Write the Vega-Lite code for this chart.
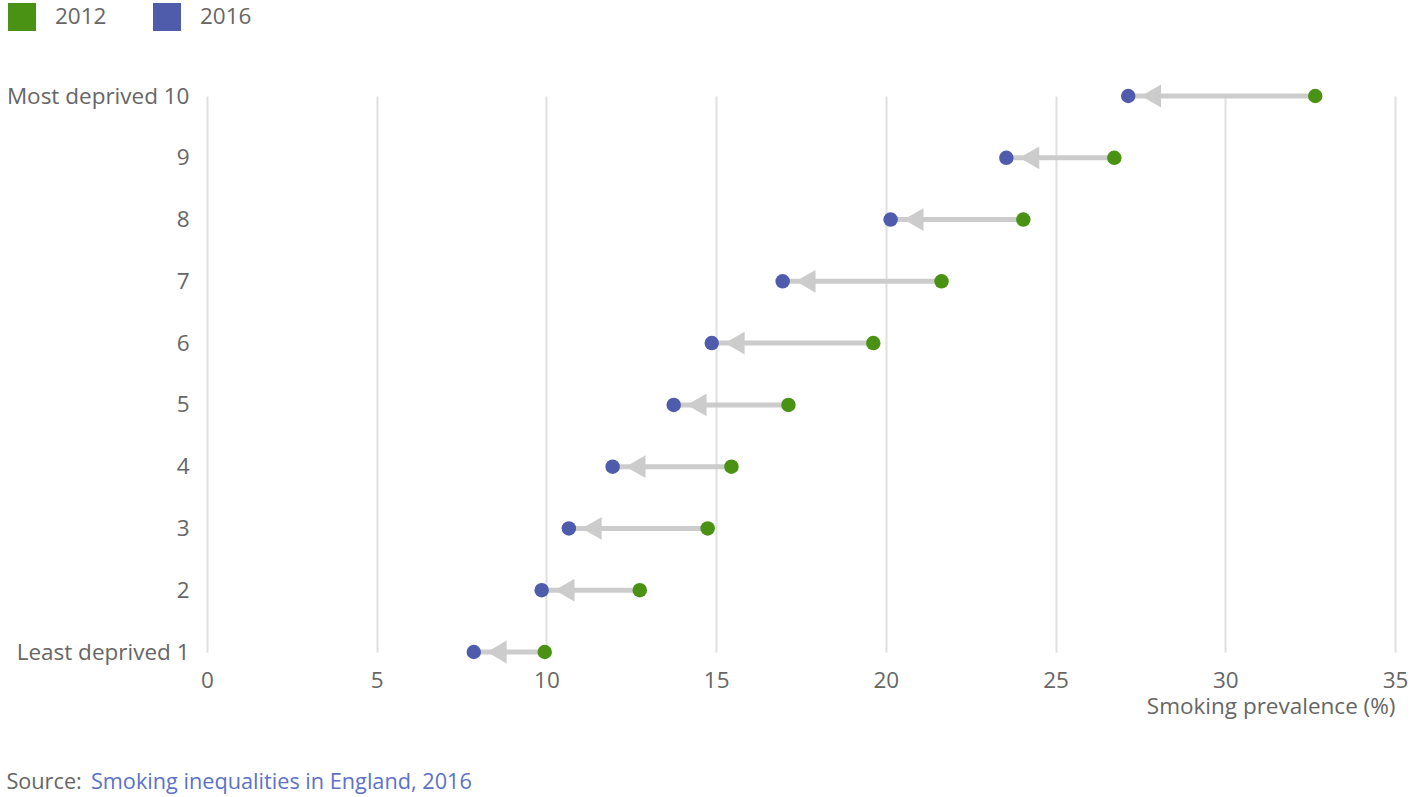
{
  "$schema": "https://vega.github.io/schema/vega-lite/v6.json",
  "width": 1420,
  "height": 797,
  "autosize": {"type": "fit", "contains": "padding"},
  "padding": {"left": 6, "right": 12, "top": 84, "bottom": 3},
  "background": "white",
  "config": {
    "font": "Open Sans",
    "view": {"stroke": null},
    "axis": {"labelColor": "#666666", "titleColor": "#666666", "labelFontSize": 22.5, "titleFontSize": 22.5, "titleFontWeight": "normal"}
  },
  "title": {
    "text": "Source:",
    "subtitle": "\u200b\u00a0\u00a0\u00a0\u00a0\u00a0\u00a0\u00a0\u00a0\u00a0\u00a0\u00a0\u00a0\u00a0\u00a0\u00a0Smoking inequalities in England, 2016",
    "orient": "bottom",
    "anchor": "start",
    "frame": "bounds",
    "fontSize": 21.7,
    "fontWeight": "normal",
    "color": "#666666",
    "subtitleFontSize": 21.7,
    "subtitleColor": "#5b72c8",
    "subtitlePadding": -21.7,
    "offset": 54
  },
  "data": {
    "values": [
      {"decile": "Most deprived 10", "rank": 10, "y2012": 32.65, "y2016": 27.14},
      {"decile": "9", "rank": 9, "y2012": 26.73, "y2016": 23.55},
      {"decile": "8", "rank": 8, "y2012": 24.05, "y2016": 20.14},
      {"decile": "7", "rank": 7, "y2012": 21.64, "y2016": 16.96},
      {"decile": "6", "rank": 6, "y2012": 19.63, "y2016": 14.87},
      {"decile": "5", "rank": 5, "y2012": 17.13, "y2016": 13.75},
      {"decile": "4", "rank": 4, "y2012": 15.45, "y2016": 11.95},
      {"decile": "3", "rank": 3, "y2012": 14.75, "y2016": 10.66},
      {"decile": "2", "rank": 2, "y2012": 12.75, "y2016": 9.86},
      {"decile": "Least deprived 1", "rank": 1, "y2012": 9.95, "y2016": 7.86}
    ]
  },
  "encoding": {
    "y": {
      "field": "decile",
      "type": "nominal",
      "sort": {"field": "rank", "order": "descending"},
      "scale": {"type": "point", "padding": 0},
      "axis": {"title": null, "domain": false, "ticks": false, "grid": false, "labelPadding": 18, "labelLimit": 400}
    }
  },
  "layer": [
    {
      "mark": {"type": "rule", "color": "#cccccc", "strokeWidth": 5},
      "encoding": {
        "x": {
          "field": "y2012",
          "type": "quantitative",
          "scale": {"domain": [0, 35], "nice": false},
          "axis": {
            "title": "Smoking prevalence (%)",
            "titleAnchor": "end",
            "titlePadding": 4,
            "values": [0, 5, 10, 15, 20, 25, 30, 35],
            "domain": false,
            "ticks": false,
            "grid": true,
            "gridColor": "#e0e0e0",
            "gridWidth": 2,
            "labelPadding": 17,
            "labelFlush": false
          }
        },
        "x2": {"field": "y2016"}
      }
    },
    {
      "mark": {"type": "point", "shape": "triangle-left", "filled": true, "color": "#cccccc", "opacity": 1, "size": 520, "xOffset": 23},
      "encoding": {
        "x": {"field": "y2016", "type": "quantitative"}
      }
    },
    {
      "transform": [
        {"fold": ["y2012", "y2016"], "as": ["key", "value"]},
        {"calculate": "datum.key === 'y2012' ? '2012' : '2016'", "as": "year"}
      ],
      "mark": {"type": "circle", "size": 210, "opacity": 1},
      "encoding": {
        "x": {"field": "value", "type": "quantitative"},
        "color": {
          "field": "year",
          "type": "nominal",
          "scale": {"domain": ["2012", "2016"], "range": ["#4a9213", "#4f5bab"]},
          "legend": {
            "title": null,
            "orient": "none",
            "legendX": -199,
            "legendY": -93,
            "direction": "horizontal",
            "symbolType": "square",
            "symbolSize": 784,
            "symbolStrokeWidth": 0,
            "symbolOpacity": 1,
            "labelFontSize": 22.5,
            "labelColor": "#666666",
            "labelOffset": 19,
            "columnPadding": 46
          }
        }
      }
    }
  ]
}
